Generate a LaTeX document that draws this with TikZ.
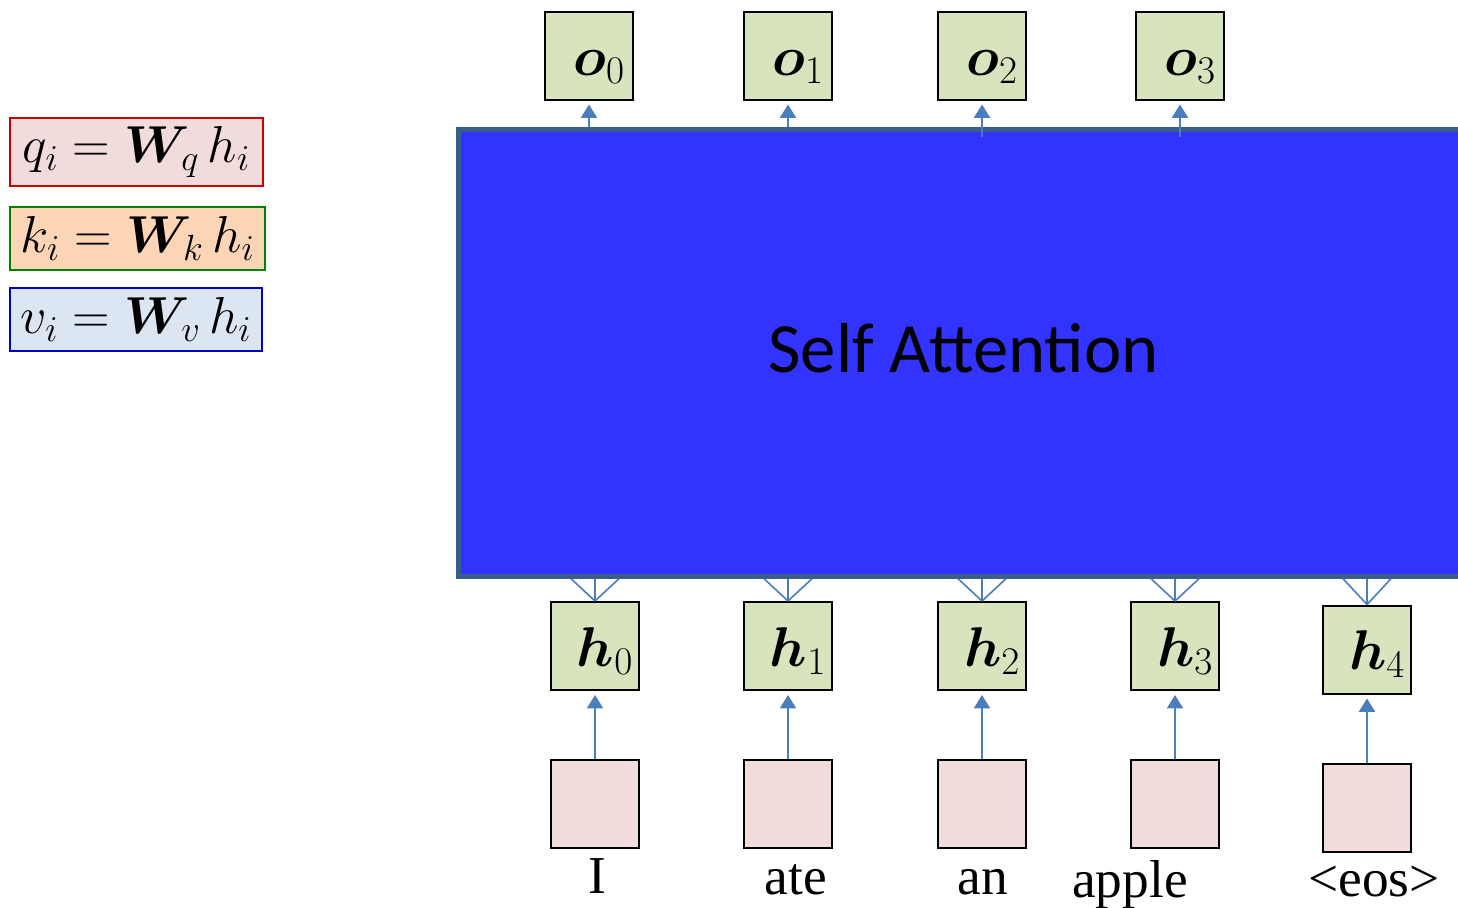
\RequirePackage{fix-cm}
\documentclass[tikz,border=0pt]{standalone}
\usepackage{fontspec}
\setmainfont{Liberation Serif}
\newfontfamily\calibri{Carlito}
\usepackage{bm}
\usetikzlibrary{arrows.meta}

\definecolor{boxgreen}{HTML}{D7E4BD}
\definecolor{boxpink}{HTML}{F2DCDB}
\definecolor{boxpeach}{HTML}{FBD5B5}
\definecolor{boxblue}{HTML}{DCE6F2}
\definecolor{arrowblue}{HTML}{4A7EBB}
\definecolor{attnfill}{HTML}{3333FF}
\definecolor{attnedge}{HTML}{385D8A}

\newcommand*{\boxlbl}[1]{\kern15pt$#1$}

\begin{document}
\begin{tikzpicture}
[
	x=0.75pt, y=-0.75pt,
	hidbox/.style={draw=black, line width=1.5pt, fill=boxgreen, minimum size=66pt, inner sep=0pt,
		text height=30pt, text depth=0pt, font=\fontsize{42}{46}\selectfont},
	embbox/.style={draw=black, line width=1.5pt, fill=boxpink, minimum size=66pt, inner sep=0pt},
	eqbox/.style={draw, line width=1.5pt, inner sep=0pt, font=\fontsize{39}{44}\selectfont},
	word/.style={font=\fontsize{40}{44}\selectfont, inner sep=0pt, anchor=base},
	uparrow/.style={draw=arrowblue, line width=1.5pt, -{Triangle[width=12pt,length=10pt]}, shorten >=3pt},
	fanline/.style={draw=arrowblue, line width=1.2pt}
]
	\useasboundingbox (0,0) rectangle (1458,907);

	% legend
	\node[eqbox, draw=red!80!black, fill=boxpink, minimum width=190pt, minimum height=51pt] (qeq) at (136.5,152) {$q_i = \bm{W}_q\, h_i$};
	\node[eqbox, draw=green!50!black, fill=boxpeach, minimum width=191pt, minimum height=47pt] (keq) at (137.5,238.5) {$k_i = \bm{W}_k\, h_i$};
	\node[eqbox, draw=blue!80!black, fill=boxblue, minimum width=189pt, minimum height=47pt] (veq) at (136,319.5) {$v_i = \bm{W}_v\, h_i$};

	% self attention block (runs off the right edge)
	\node[draw=attnedge, line width=3.5pt, fill=attnfill, minimum width=758pt, minimum height=335pt,
		font=\calibri\fontsize{53}{60}\selectfont] (attn) at (963.5,353) {\raisebox{8pt}{Self Attention}};

	% outputs
	\foreach \i/\x/\s in {0/589/0, 1/788/0, 2/982/10, 3/1180/10} {
		\node[hidbox] (o\i) at (\x,55.5) {\boxlbl{\bm{o}_\i}};
		\draw[uparrow] ([yshift=-\s*0.75pt]o\i.south |- attn.north) -- (o\i.south);
	}

	% hidden states and inputs
	\foreach \i/\x/\y/\w/\wx/\wy in {0/595/0/I/597/893, 1/788/0/ate/796/894, 2/982/0/an/983/894, 3/1175/0/apple/1130/897, 4/1367/3.5/{<eos>}/1374/896} {
		\node[hidbox] (h\i) at (\x,646+\y) {\boxlbl{\bm{h}_\i}};
		\node[embbox] (e\i) at (\x,804+\y) {};
		\node[word] (w\i) at (\wx,\wy) {\w};
		\draw[uparrow] (e\i.north) -- (h\i.south);
		\foreach \d in {-18,0,18} {
			\draw[fanline] (h\i.north) -- ([xshift=\d pt]h\i.north |- attn.south);
		}
	}

\end{tikzpicture}
\end{document}
